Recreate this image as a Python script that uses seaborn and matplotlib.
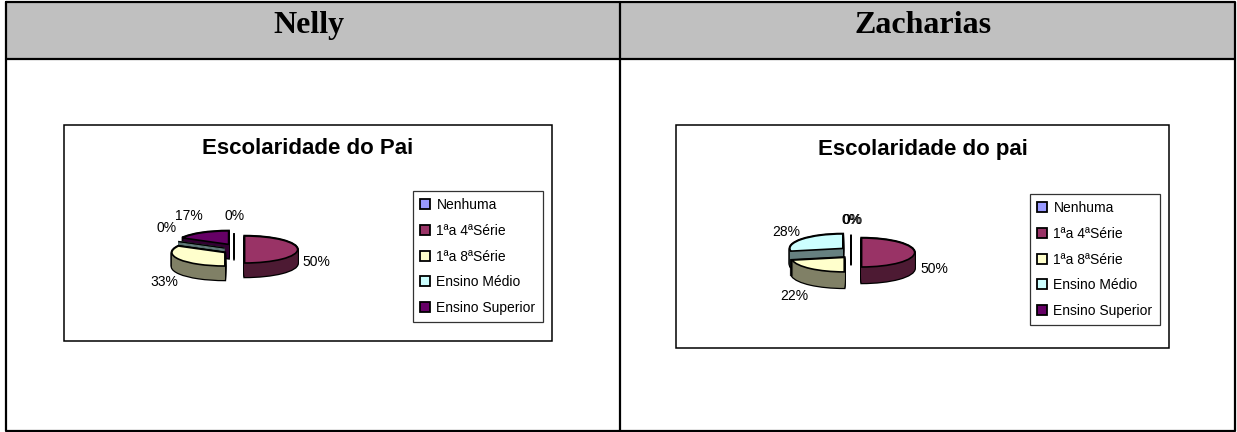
import seaborn as sns
import matplotlib
matplotlib.use('Agg')
import matplotlib.pyplot as plt
from matplotlib.patches import Rectangle, Patch
import numpy as np

categories = ['Nenhuma', '1ªa 4ªSérie', '1ªa 8ªSérie', 'Ensino Médio', 'Ensino Superior']
nelly_values = [0, 50, 33, 0, 17]
zacharias_values = [0, 50, 22, 28, 0]
top_colors = ['#9999FF', '#993366', '#FFFFCC', '#CCFFFF', '#660066']
side_colors = ['#4D4D80', '#4D1A33', '#808066', '#668080', '#330033']

sns.set_theme(style='white')
plt.rcParams['font.family'] = ['Liberation Sans', 'DejaVu Sans']

W, H = 1237, 432
fig = plt.figure(figsize=(W / 100, H / 100), dpi=100)
bg = fig.add_axes([0, 0, 1, 1])
bg.set_xlim(0, W)
bg.set_ylim(H, 0)
bg.axis('off')

# table around the two charts
bg.add_patch(Rectangle((6, 2), 1229, 57, fc='#C0C0C0', ec='none'))
bg.plot([6, 1235, 1235, 6, 6], [2, 2, 431, 431, 2], color='black', lw=1.6)
bg.plot([6, 1235], [59, 59], color='black', lw=1.6)
bg.plot([620, 620], [2, 431], color='black', lw=1.6)
for x, name in [(308.5, 'Nelly'), (923, 'Zacharias')]:
    bg.text(x, 33, name, ha='center', va='baseline', fontsize=23, fontweight='bold',
            family=['Liberation Serif', 'DejaVu Serif'], color='black')


def draw_pie(values, cx, cy, rx, ry, depth):
    # one axes per pie, radius 1 is rx wide and ry high, so it comes out squashed
    left, right = cx - 75, cx + 75
    top, bottom = cy - 30, cy + 45
    ax = fig.add_axes([left / W, 1 - bottom / H, (right - left) / W, (bottom - top) / H])
    ax.patch.set_visible(False)
    dy = depth / ry

    shares = np.array(values) / sum(values)
    ends = 90 - 360 * np.cumsum(shares)
    mids = np.radians(ends + 180 * shares)
    rank = np.argsort(np.argsort(-np.sin(mids) + 0.001 * np.arange(len(values))))

    def one_pie(colors, offset, base, lw, zero_lw, side_pass=False):
        wedges, _ = ax.pie(values, colors=colors, startangle=90, counterclock=False,
                           radius=1, normalize=True)
        for i, w in enumerate(wedges):
            # slices pulled apart by hand, further up and down than a plain explode
            lift = 0.44 if values[i] > 0 else 0.22
            w.set_center((0.2 * np.cos(mids[i]), lift * np.sin(mids[i]) - offset))
            w.set_zorder(rank[i] * 10 + base)
            w.set_edgecolor('none' if side_pass else 'black')
            w.set_linewidth(lw)
            if values[i] == 0:
                w.set_linewidth(zero_lw)
                if side_pass:
                    # a 0% slice standing upright only shows as its black line
                    upright = abs(np.cos(mids[i])) < 0.01
                    w.set_edgecolor('none' if upright else side_colors[i])
                else:
                    w.set_edgecolor('black')

    # the side of the slice is a stack of dark copies, then the top goes over it
    steps = np.linspace(0, dy, int(depth) + 1)
    for s in steps:
        one_pie(side_colors, s, 1, 1.8, 1.1)
    for s in steps:
        one_pie(side_colors, s, 2, 0, 0.9, side_pass=True)
    one_pie(top_colors, 0, 3, 1.2, 1.0)

    ax.set_aspect('auto')
    ax.set_xlim((left - cx) / rx, (right - cx) / rx)
    ax.set_ylim((cy - bottom) / ry, (cy - top) / ry)
    ax.axis('off')


def draw_chart(values, title, frame, title_y, legend_xy, label_xy, pie):
    x0, y0, x1, y1 = frame
    bg.add_patch(Rectangle((x0, y0), x1 - x0, y1 - y0, fc='white', ec='black', lw=1.1))
    bg.text((x0 + x1) / 2, title_y, title, ha='center', va='baseline', fontsize=16,
            fontweight='bold', color='black')
    for v, (x, y) in zip(values, label_xy):
        bg.text(x, y, f'{v}%', ha='center', va='center', fontsize=10, color='black')
    draw_pie(values, *pie)
    handles = [Patch(facecolor=c, edgecolor='black', linewidth=1.3) for c in top_colors]
    leg = bg.legend(handles, categories, loc='upper left', bbox_to_anchor=legend_xy,
                    bbox_transform=bg.transData, borderaxespad=0, fontsize=10,
                    handlelength=0.72, handleheight=0.72, handletextpad=0.45,
                    labelspacing=0.84, borderpad=0.52, fancybox=False, framealpha=1,
                    edgecolor='#333333', labelcolor='black')
    leg.get_frame().set_linewidth(0.9)
    return leg


leg1 = draw_chart(nelly_values, 'Escolaridade do Pai', (64, 125, 552, 341), 154, (413, 191),
                  [(235, 216), (316, 262), (164, 282), (167, 228), (189, 216)],
                  (234, 249.5, 53, 13.5, 14))
bg.add_artist(leg1)
draw_chart(zacharias_values, 'Escolaridade do pai', (676, 125, 1169, 348), 155, (1030, 194),
           [(852, 220), (934, 269), (794, 296), (786, 232), (852.4, 220)],
           (851, 252.5, 53, 14.5, 16))

fig.savefig('out.png', dpi=100)
